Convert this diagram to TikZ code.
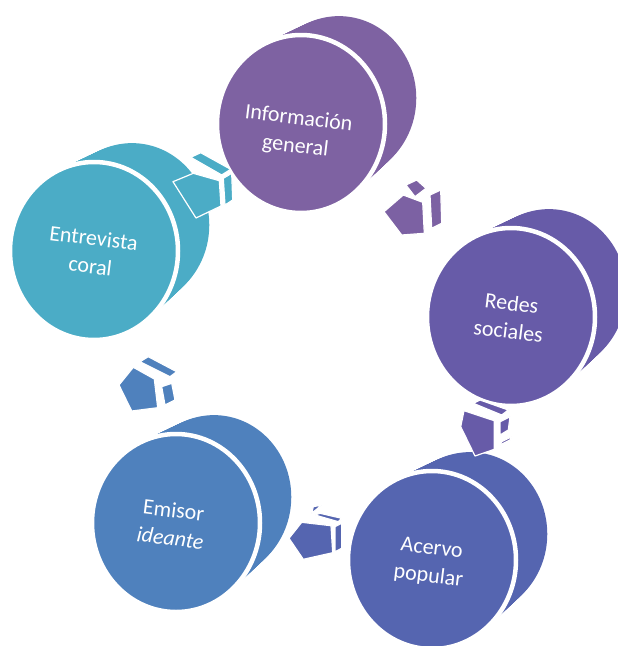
\documentclass[tikz,border=0pt]{standalone}
\usepackage{fontspec}
\setmainfont{Carlito}
\usetikzlibrary{calc}
\definecolor{cInfo}{HTML}{7E62A2}
\definecolor{cEntre}{HTML}{4BACC6}
\definecolor{cRedes}{HTML}{675BA8}
\definecolor{cAcervo}{HTML}{5565B0}
\definecolor{cEmisor}{HTML}{4F81BD}
\tikzset{
  lbl/.style={text=white, font=\fontsize{22}{28}\selectfont, align=center, rotate=-7, inner sep=0pt},
  frontface/.style={fill=#1, draw=white, line width=4.5pt},
  arrface/.style={fill=#1, draw=white, line width=1.2pt, line join=round},
}
\newcommand\cylinder[3]{%
  \foreach \k in {0,0.04,...,1.001}{
    \pgfmathsetmacro\rxx{84*(1-0.08*\k)}
    \pgfmathsetmacro\ryy{89*(1-0.08*\k)}
    \fill[#3] ($(#1,#2)+\k*(38,-26)$) ellipse [x radius=\rxx, y radius=\ryy];
  }
  \filldraw[frontface=#3] (#1,#2) ellipse [x radius=84, y radius=89];
}
\begin{document}
\begin{tikzpicture}[x=1pt,y=-1pt]
\useasboundingbox (0,0) rectangle (618,646);
% discs
\cylinder{301}{124}{cInfo}
\cylinder{94}{251}{cEntre}
\cylinder{511}{317}{cRedes}
\cylinder{176}{523}{cEmisor}
\cylinder{432}{560}{cAcervo}
% labels
\node[lbl] (info) at (297,133) {Información\\general};
\node[lbl] (entre) at (92,252) {Entrevista\\coral};
\node[lbl] (redes) at (510,317) {Redes\\sociales};
\node[lbl] (emisor) at (172,524) {Emisor\\\textit{ideante}};
\node[lbl] (acervo) at (430,563) {Acervo\\popular};
% arrow Entrevista -> Informacion
\filldraw[arrface=cEntre] (190.7,157.3) -- (200.7,152.7) -- (230.7,169.3) -- (221.7,175) -- cycle;
\filldraw[arrface=cEntre] (223.3,178.3) -- (231.7,173.3) -- (232.7,200) -- (225,205) -- cycle;
\filldraw[arrface=cEntre] (173,181.7) -- (193.3,173.3) -- (219.3,180.7) -- (221,206) -- (196,218) -- cycle;
% arrow Informacion -> Redes
\filldraw[arrface=cInfo!90!cRedes] (406,185) -- (416.7,180) -- (426,188.3) -- (415,196.7) -- cycle;
\filldraw[arrface=cInfo!90!cRedes] (430,195) -- (440.7,190) -- (441.7,223.3) -- (431.7,228.3) -- cycle;
\filldraw[arrface=cInfo!90!cRedes] (384,211.7) -- (403.3,195) -- (422.7,202.3) -- (424.3,233.3) -- (401.7,235) -- cycle;
% arrow Redes -> Acervo
\filldraw[arrface=cRedes] (473.3,403.3) -- (480,400) -- (508.3,410) -- (501.7,415) -- cycle;
\filldraw[arrface=cRedes] (500,421.7) -- (510,416.7) -- (508.3,430) -- (500,435) -- cycle;
\filldraw[arrface=cRedes] (501.7,441.7) -- (511.7,436.7) -- (510,440) -- (500,445) -- cycle;
\filldraw[arrface=cRedes] (464,410.7) -- (494.3,420.7) -- (494.3,449.3) -- (475,456) -- (460.7,426.7) -- cycle;
% arrow Acervo -> Emisor
\filldraw[arrface=cAcervo] (315,515) -- (320,513.3) -- (341.7,518.3) -- (338.3,521.7) -- cycle;
\filldraw[arrface=cAcervo] (313.3,506.7) -- (321.7,505) -- (311.7,513.3) -- cycle;
\filldraw[arrface=cAcervo] (335,526.7) -- (341.7,523.3) -- (341.7,548.3) -- (335,551.7) -- cycle;
\filldraw[arrface=cAcervo] (289,538.3) -- (301.7,522.3) -- (331,525.7) -- (332.7,552.7) -- (303.3,559.3) -- cycle;
% arrow Emisor -> Entrevista
\filldraw[arrface=cEmisor] (140,361.7) -- (148.3,356.7) -- (176.7,371.7) -- (170,376.7) -- cycle;
\filldraw[arrface=cEmisor] (161.7,386.7) -- (171.7,383.3) -- (175,400) -- (165,405) -- cycle;
\filldraw[arrface=cEmisor] (119,385) -- (133.3,367.3) -- (154.3,379) -- (157.7,407.7) -- (131.7,411) -- cycle;
\end{tikzpicture}
\end{document}
